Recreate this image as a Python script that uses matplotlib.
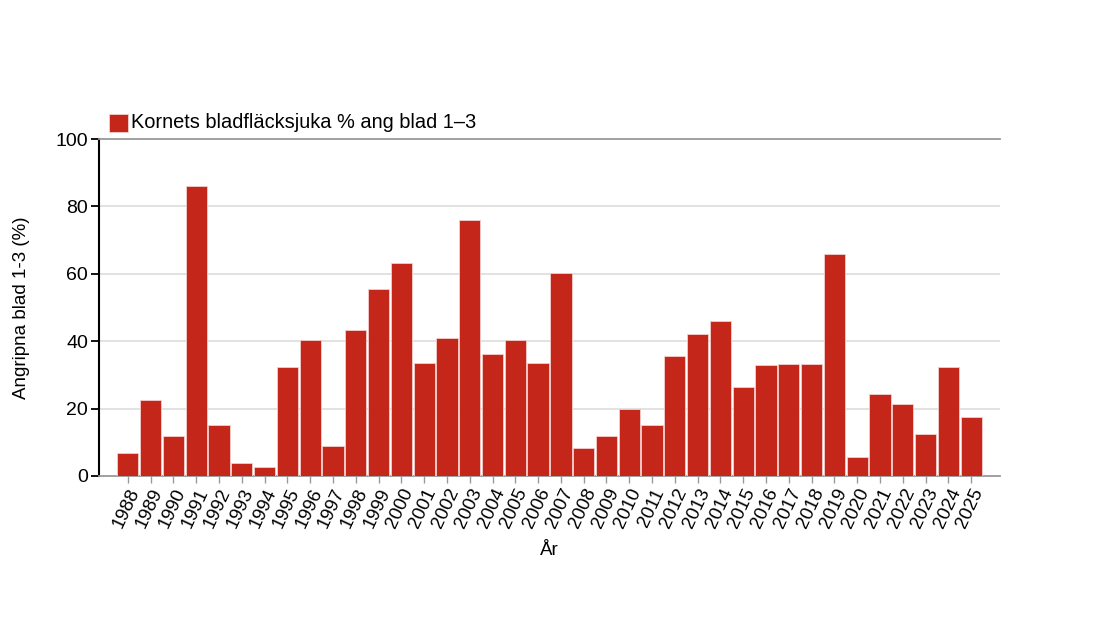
import matplotlib
matplotlib.use("Agg")
import matplotlib.pyplot as plt
import numpy as np

plt.rcParams['font.family'] = ['Liberation Sans', 'DejaVu Sans']

years = [str(y) for y in range(1988, 2026)]
values = [6.7, 22.5, 12.0, 86.0, 15.1, 3.8, 2.6, 32.4, 40.4, 9.0,
          43.4, 55.5, 63.1, 33.6, 41.0, 76.1, 36.1, 40.3, 33.6, 60.1,
          8.2, 12.0, 19.9, 15.2, 35.5, 42.2, 46.1, 26.4, 32.8, 33.1,
          33.1, 65.8, 5.5, 24.3, 21.4, 12.4, 32.3, 17.6]
series_name = "Kornets bladfläcksjuka % ang blad 1–3"
y_ticks = [0, 20, 40, 60, 80, 100]
bar_color = '#c4261a'

fig = plt.figure(figsize=(11, 6.24), dpi=100)
ax = fig.add_axes([99/1100, 1-476/624, 901/1100, 337/624])

x = np.arange(len(years))
ax.bar(x, values, width=0.93, color=bar_color, edgecolor='#f4d0cc', linewidth=0.6, zorder=3)

ax.set_xlim(-1.26, len(years) - 1 + 1.26)
ax.set_ylim(0, 100)
ax.set_yticks(y_ticks)
ax.set_yticklabels([str(t) for t in y_ticks], fontsize=14)
for t in y_ticks[1:-1]:
    ax.axhline(t, color='#dddddd', linewidth=1.2, zorder=1)

ax.set_xticks(x)
ax.set_xticklabels(years, rotation=65, ha='right', va='top', rotation_mode='anchor', fontsize=13.5)

ax.spines['right'].set_visible(False)
ax.spines['top'].set_color('#999999')
ax.spines['top'].set_linewidth(1.3)
ax.spines['bottom'].set_color('#999999')
ax.spines['bottom'].set_linewidth(1.3)
ax.spines['left'].set_color('black')
ax.spines['left'].set_linewidth(1.5)
ax.tick_params(axis='y', length=6, width=1.3, color='black', pad=2)
ax.tick_params(axis='x', length=5, width=1.0, color='#999999', pad=2)

ax.set_ylabel("Angripna blad 1-3 (%)", fontsize=13.5, labelpad=18)
ax.set_xlabel("År", fontsize=13.5, labelpad=8)

# legend
fig.patches.append(matplotlib.patches.Rectangle((109/1100, 1-132/624), 19/1100, 18/624,
                   transform=fig.transFigure, facecolor=bar_color, edgecolor='#f4d0cc', linewidth=0.6))
fig.text(131/1100, 1-123/624, series_name, fontsize=14.4, va='center', ha='left')

fig.savefig("out.png", dpi=100)
